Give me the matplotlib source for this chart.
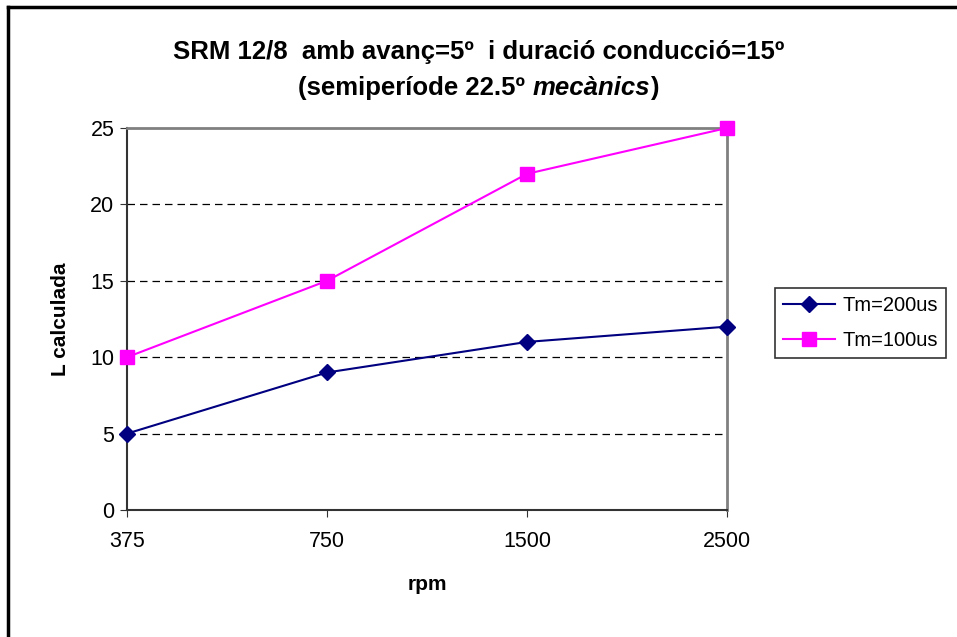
import matplotlib
matplotlib.use("Agg")
import matplotlib.pyplot as plt
from matplotlib.lines import Line2D
from matplotlib.transforms import blended_transform_factory

plt.rcParams["font.family"] = ["Liberation Sans", "DejaVu Sans"]

rpm_labels = ["375", "750", "1500", "2500"]
tm200 = [5, 9, 11, 12]
tm100 = [10, 15, 22, 25]
series_names = ["Tm=200us", "Tm=100us"]

W, H = 957, 637
fig = plt.figure(figsize=(W / 100, H / 100), dpi=100)
ax = fig.add_axes([127 / W, 1 - 510 / H, 600 / W, 382 / H])

x = list(range(len(rpm_labels)))
ax.plot(x, tm200, color="#000080", lw=1.5, marker="D", ms=8,
        label=series_names[0], clip_on=False, zorder=4)
ax.plot(x, tm100, color="#ff00ff", lw=1.5, marker="s", ms=9.5,
        label=series_names[1], clip_on=False, zorder=5)

ax.set_xlim(0, 3)
ax.set_ylim(0, 25)
ax.set_xticks(x)
ax.set_xticklabels(rpm_labels)
ax.set_yticks(range(0, 26, 5))
ax.tick_params(axis="both", labelsize=15.5, length=5, color="#333333")
ax.tick_params(axis="x", pad=10)
ax.tick_params(axis="y", pad=4)

# dashed gridlines
for v in [5, 10, 15, 20]:
    ax.axhline(v, color="black", lw=0.9, ls=(0, (6, 4)), zorder=1)

ax.spines["top"].set_color("#808080")
ax.spines["right"].set_color("#808080")
ax.spines["top"].set_linewidth(2)
ax.spines["right"].set_linewidth(2)
ax.spines["left"].set_color("#333333")
ax.spines["bottom"].set_color("#333333")
ax.spines["left"].set_linewidth(1.5)
ax.spines["bottom"].set_linewidth(1.5)

ax.set_xlabel("rpm", fontsize=15, fontweight="bold", va="center")
ax.set_ylabel("L calculada", fontsize=15, fontweight="bold", va="center")
ax.xaxis.set_label_coords(0.5, 1 - 585 / H,
                          transform=blended_transform_factory(ax.transAxes, fig.transFigure))
ax.yaxis.set_label_coords(61 / W, 0.5,
                          transform=blended_transform_factory(fig.transFigure, ax.transAxes))

leg = ax.legend(loc="lower left", bbox_to_anchor=(775 / W, 1 - 358 / H),
                bbox_transform=fig.transFigure, fontsize=14.5, frameon=True,
                fancybox=False, edgecolor="black", borderpad=0.4,
                labelspacing=0.8, handlelength=2.6, handletextpad=0.35,
                borderaxespad=0)
leg.get_frame().set_linewidth(1.2)

# title, first line
fig.text(0.5, 1 - 52 / H, "SRM 12/8  amb avanç=5º  i duració conducció=15º",
         ha="center", va="center", fontsize=18.5, fontweight="bold")

# second line with italic part
parts = [("(semiperíode 22.5º ", "normal"), ("mecànics", "italic"), (")", "normal")]
texts = []
for s, st in parts:
    texts.append(fig.text(0, 1 - 88 / H, s, ha="left", va="center",
                          fontsize=18.5, fontweight="bold", style=st))
fig.canvas.draw()
r = fig.canvas.get_renderer()
widths = [t.get_window_extent(r).width for t in texts]
cur = (W - sum(widths)) / 2
for t, w in zip(texts, widths):
    t.set_x(cur / W)
    cur += w

# outer frame, top and left edges
fig.add_artist(Line2D([8 / W, 1], [1 - 6.5 / H, 1 - 6.5 / H], color="black",
                      lw=2.5, transform=fig.transFigure))
fig.add_artist(Line2D([8 / W, 8 / W], [0, 1 - 6.5 / H], color="black",
                      lw=2.5, transform=fig.transFigure))

fig.savefig("out.png", dpi=100)
